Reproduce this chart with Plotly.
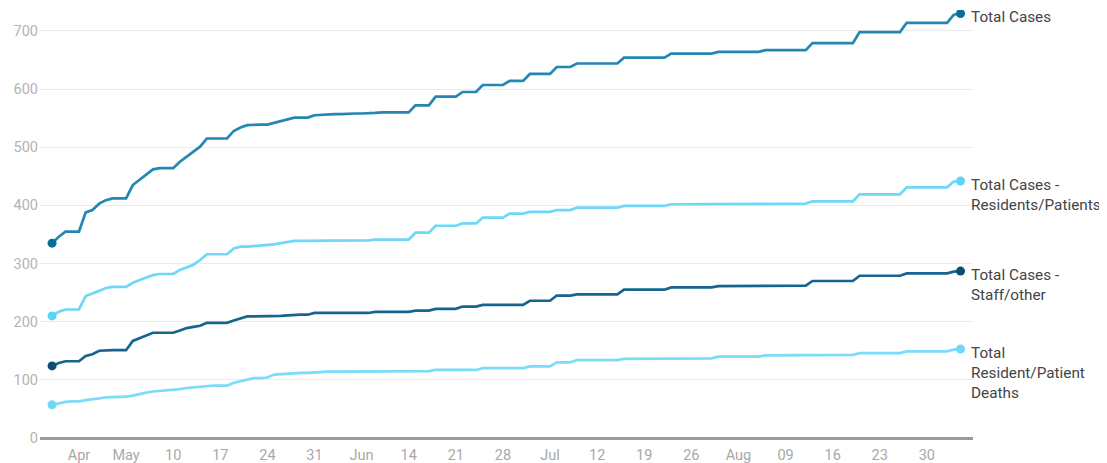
import pandas as pd
import plotly.graph_objects as go

start_date = "2020-04-22"

total_cases = [
    335, 346, 355, 355, 355, 388, 392, 403, 409, 412, 412, 412,
    435, 444, 452, 462, 464, 464, 464, 475, 484, 492, 501, 515,
    515, 515, 515, 528, 534, 538, 539, 539, 539, 542, 545, 547,
    551, 551, 551, 555, 556, 557, 557, 557, 558, 558, 558, 558,
    559, 560, 560, 560, 560, 560, 572, 572, 572, 587, 587, 587,
    587, 595, 595, 595, 607, 607, 607, 607, 614, 614, 614, 626,
    626, 626, 626, 638, 638, 638, 644, 644, 644, 644, 644, 644,
    644, 654, 654, 654, 654, 654, 654, 654, 661, 661, 661, 661,
    661, 661, 661, 664, 664, 664, 664, 664, 664, 664, 667, 667,
    667, 667, 667, 667, 667, 679, 679, 679, 679, 679, 679, 679,
    698, 698, 698, 698, 698, 698, 698, 714, 714, 714, 714, 714,
    714, 714, 728, 730,
]

residents_patients = [
    210, 217, 221, 221, 221, 244, 248, 253, 258, 260, 260, 260,
    267, 272, 276, 280, 282, 282, 282, 289, 294, 298, 306, 316,
    316, 316, 316, 326, 329, 329, 330, 330, 332, 333, 335, 337,
    339, 339, 339, 340, 340, 340, 340, 340, 340, 340, 340, 340,
    341, 341, 341, 341, 341, 341, 353, 353, 353, 365, 365, 365,
    365, 369, 369, 369, 379, 379, 379, 379, 386, 386, 386, 389,
    389, 389, 389, 392, 392, 392, 396, 396, 396, 396, 396, 396,
    396, 399, 399, 399, 399, 399, 399, 399, 402, 402, 402, 402,
    402, 402, 402, 403, 403, 403, 403, 403, 403, 403, 403, 403,
    403, 403, 403, 403, 403, 407, 407, 407, 407, 407, 407, 407,
    419, 419, 419, 419, 419, 419, 419, 431, 431, 431, 431, 431,
    431, 431, 441, 442,
]

staff_other = [
    124, 129, 132, 132, 132, 141, 144, 150, 151, 151, 151, 151,
    167, 172, 176, 181, 181, 181, 181, 185, 189, 191, 193, 198,
    198, 198, 198, 202, 206, 209, 209, 209, 209, 210, 210, 211,
    212, 212, 212, 215, 215, 215, 215, 215, 215, 215, 215, 215,
    217, 217, 217, 217, 217, 217, 219, 219, 219, 222, 222, 222,
    222, 226, 226, 226, 229, 229, 229, 229, 229, 229, 229, 236,
    236, 236, 236, 245, 245, 245, 247, 247, 247, 247, 247, 247,
    247, 255, 255, 255, 255, 255, 255, 255, 259, 259, 259, 259,
    259, 259, 259, 261, 261, 261, 261, 261, 261, 261, 262, 262,
    262, 262, 262, 262, 262, 270, 270, 270, 270, 270, 270, 270,
    279, 279, 279, 279, 279, 279, 279, 283, 283, 283, 283, 283,
    283, 283, 286, 287,
]

resident_deaths = [
    57, 60, 62, 63, 63, 65, 66, 68, 70, 70, 70, 71,
    73, 76, 78, 80, 81, 81, 82, 84, 86, 87, 89, 90,
    90, 90, 90, 95, 98, 101, 103, 103, 104, 109, 110, 111,
    112, 112, 112, 113, 114, 114, 114, 114, 114, 114, 114, 114,
    115, 115, 115, 115, 115, 115, 115, 115, 115, 117, 117, 117,
    117, 117, 117, 117, 120, 120, 120, 120, 120, 120, 120, 123,
    123, 123, 123, 130, 130, 130, 134, 134, 134, 134, 134, 134,
    134, 136, 136, 136, 136, 136, 136, 136, 137, 137, 137, 137,
    137, 137, 137, 140, 140, 140, 140, 140, 140, 140, 142, 142,
    142, 142, 142, 142, 142, 143, 143, 143, 143, 143, 143, 143,
    146, 146, 146, 146, 146, 146, 146, 149, 149, 149, 149, 149,
    149, 149, 152, 153,
]

series_names = [
    "Total Cases",
    "Total Cases -<br>Residents/Patients",
    "Total Cases -<br>Staff/other",
    "Total<br>Resident/Patient<br>Deaths",
]

tick_dates = [
    "2020-04-26", "2020-05-03", "2020-05-10", "2020-05-17", "2020-05-24",
    "2020-05-31", "2020-06-07", "2020-06-14", "2020-06-21", "2020-06-28",
    "2020-07-05", "2020-07-12", "2020-07-19", "2020-07-26", "2020-08-02",
    "2020-08-09", "2020-08-16", "2020-08-23", "2020-08-30",
]
tick_labels = [
    "Apr", "May", "10", "17", "24", "31", "Jun", "14", "21", "28",
    "Jul", "12", "19", "26", "Aug", "09", "16", "23", "30",
]
y_ticks = [0, 100, 200, 300, 400, 500, 600, 700]

dates = pd.date_range(start_date, periods=len(total_cases), freq="D")

all_series = [total_cases, residents_patients, staff_other, resident_deaths]
line_colors = ["#2287b3", "#6fd7f7", "#17648e", "#7adcf8"]
dot_colors = ["#0b6c98", "#5fd3f6", "#0b4e72", "#6dd9f7"]

fig = go.Figure()
for vals, name, lc, dc in zip(all_series, series_names, line_colors, dot_colors):
    fig.add_trace(go.Scatter(
        x=dates, y=vals, mode="lines",
        line=dict(color=lc, width=2.7),
        hoverinfo="skip", showlegend=False,
    ))
    fig.add_trace(go.Scatter(
        x=[dates[0], dates[-1]], y=[vals[0], vals[-1]], mode="markers",
        marker=dict(color=dc, size=9),
        hoverinfo="skip", showlegend=False,
    ))
    fig.add_annotation(
        x=dates[-1], y=vals[-1], text=name, showarrow=False,
        xanchor="left", yanchor="top", align="left",
        xshift=8, yshift=7,
        font=dict(family="Roboto, sans-serif", size=15.3, color="#444444"),
    )

# The page body has an 8px margin, so the figure is sized and offset for it.
fig.update_layout(
    width=1099, height=455,
    margin=dict(l=32, r=134, t=2, b=25, autoexpand=False),
    plot_bgcolor="white", paper_bgcolor="white",
    font=dict(family="Roboto, sans-serif"),
    showlegend=False,
)
fig.update_xaxes(
    range=["2020-04-20 05:00", "2020-09-05 20:30"],
    tickvals=tick_dates, ticktext=tick_labels,
    showgrid=False, zeroline=False,
    showline=False, ticks="", automargin=False,
    ticklabelstandoff=6,
    tickfont=dict(family="Roboto, sans-serif", size=14.5, color="#a8a8a8"),
)
fig.update_yaxes(
    range=[0, 736],
    tickvals=y_ticks,
    showgrid=True, gridcolor="#ebebeb", gridwidth=1,
    zeroline=True, zerolinecolor="#9a9a9a", zerolinewidth=2.5,
    showline=False, ticks="", automargin=False,
    ticklabelstandoff=1,
    tickfont=dict(family="Roboto, sans-serif", size=14.5, color="#b3b3b3"),
)

fig.write_html("out.html")
